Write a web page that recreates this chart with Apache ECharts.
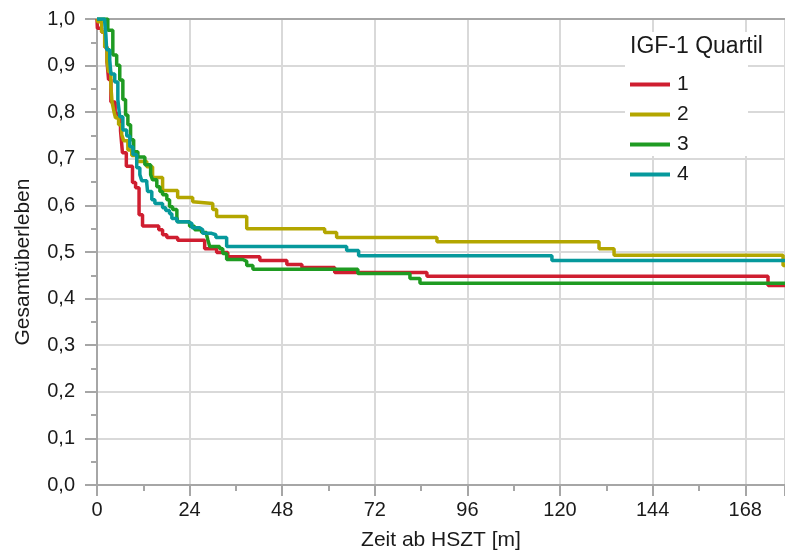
<!DOCTYPE html>
<html>
<head>
<meta charset="utf-8">
<script src="https://cdn.jsdelivr.net/npm/echarts@6/dist/echarts.min.js"></script>
<style>
html,body{margin:0;padding:0;background:#fff;}
#chart{width:785px;height:556px;}
</style>
</head>
<body>
<div id="chart"></div>
<script>
// ---- data (months, survival) ----
const seriesNames = ['1', '2', '3', '4'];
const legendTitle = 'IGF-1 Quartil';
const xAxisTitle = 'Zeit ab HSZT [m]';
const yAxisTitle = 'Gesamtüberleben';
const xTickLabels = ['0', '24', '48', '72', '96', '120', '144', '168'];
const yTickLabels = ['0,0', '0,1', '0,2', '0,3', '0,4', '0,5', '0,6', '0,7', '0,8', '0,9', '1,0'];

const q1Times = [0, 0.1, 1.2, 2.0, 2.6, 3.0, 3.6, 4.7, 5.5, 6.1, 6.6, 7.6, 9.2, 10.0, 10.9, 11.8, 16.0, 17.0, 18.1, 20.9, 27.9, 31.0, 33.9, 42.2, 49.2, 53.1, 61.6, 85.5, 173.9, 178.3];
const q1Surv  = [1.0, 0.980, 0.972, 0.940, 0.908, 0.870, 0.822, 0.797, 0.785, 0.760, 0.713, 0.684, 0.649, 0.638, 0.580, 0.556, 0.548, 0.537, 0.531, 0.525, 0.507, 0.499, 0.490, 0.482, 0.473, 0.467, 0.456, 0.448, 0.428, 0.428];

const q2Times = [0, 0.2, 1.2, 2.0, 2.6, 3.0, 3.6, 3.9, 4.4, 4.8, 5.6, 6.4, 6.9, 8.0, 9.0, 10.3, 12.9, 14.4, 17.0, 20.9, 24.8, 25.3, 30.0, 31.0, 38.8, 59.0, 62.1, 88.1, 130.1, 134.0, 177.8, 178.3];
const q2Surv  = [1.0, 0.994, 0.972, 0.940, 0.908, 0.887, 0.855, 0.822, 0.801, 0.788, 0.773, 0.752, 0.739, 0.719, 0.707, 0.694, 0.683, 0.660, 0.632, 0.617, 0.608, 0.604, 0.591, 0.576, 0.550, 0.542, 0.531, 0.522, 0.507, 0.493, 0.471, 0.471];

const q3Times = [0, 2.8, 4.1, 5.1, 5.9, 6.7, 7.4, 8.0, 8.7, 9.5, 10.6, 12.4, 13.9, 14.4, 15.5, 16.3, 17.0, 18.1, 18.8, 19.6, 20.7, 20.9, 24.0, 25.3, 27.1, 28.4, 28.7, 29.2, 31.8, 32.6, 33.6, 37.8, 38.8, 40.4, 67.6, 81.1, 83.7, 178.3];
const q3Surv  = [1.0, 0.976, 0.923, 0.901, 0.869, 0.827, 0.794, 0.773, 0.741, 0.715, 0.704, 0.687, 0.666, 0.655, 0.640, 0.630, 0.623, 0.612, 0.597, 0.591, 0.576, 0.565, 0.555, 0.548, 0.542, 0.537, 0.527, 0.512, 0.507, 0.497, 0.484, 0.480, 0.471, 0.463, 0.454, 0.443, 0.433, 0.433];

const q4Times = [0, 2.0, 2.3, 2.5, 3.3, 3.6, 4.6, 5.4, 5.9, 6.7, 7.7, 8.5, 9.3, 10.3, 11.1, 11.6, 12.9, 13.1, 14.2, 15.0, 17.0, 17.8, 18.8, 19.4, 20.7, 23.5, 24.6, 26.6, 27.4, 29.7, 30.8, 33.6, 64.7, 67.8, 117.9, 178.3];
const q4Surv  = [1.0, 0.994, 0.966, 0.934, 0.912, 0.882, 0.865, 0.827, 0.790, 0.762, 0.749, 0.726, 0.709, 0.681, 0.666, 0.653, 0.647, 0.630, 0.612, 0.604, 0.595, 0.589, 0.582, 0.572, 0.565, 0.561, 0.552, 0.548, 0.540, 0.537, 0.531, 0.512, 0.503, 0.492, 0.482, 0.482];

const colors = ['#cf1e30', '#b3a600', '#1f9b22', '#06999c'];
const xMax = 178.3;

function pairs(t, s) { return t.map((v, i) => [v, s[i]]); }
const allTimes = [q1Times, q2Times, q3Times, q4Times];
const allSurv = [q1Surv, q2Surv, q3Surv, q4Surv];

const FONT = "'Liberation Sans', Arial, sans-serif";
const chart = echarts.init(document.getElementById('chart'), null, {renderer: 'canvas'});
const axisGray = '#a6a6a6';
const gridGray = '#d9d9d9';

const option = {
  animation: false,
  backgroundColor: '#ffffff',
  color: colors,
  title: {
    text: legendTitle,
    left: 630, top: 35,
    textStyle: {fontFamily: FONT, fontSize: 23, fontWeight: 'normal', color: '#1a1a1a'},
    padding: 0
  },
  legend: {
    orient: 'vertical',
    left: 630, top: 74,
    itemWidth: 40, itemHeight: 4,
    itemGap: 9,
    icon: 'rect',
    padding: 0,
    data: seriesNames,
    textStyle: {fontFamily: FONT, fontSize: 21, color: '#1a1a1a', lineHeight: 21, padding: [0, 0, 0, 2]}
  },
  graphic: [{
    type: 'rect', z: 1,
    shape: {x: 625, y: 32, width: 123, height: 124},
    style: {fill: '#ffffff'}
  }],
  grid: {left: 97, top: 19, right: 0, bottom: 70, containLabel: false},
  xAxis: [{
    type: 'value', min: 0, max: xMax, interval: 24,
    name: xAxisTitle, nameLocation: 'middle', nameGap: 45,
    nameTextStyle: {fontFamily: FONT, fontSize: 21, color: '#1a1a1a'},
    axisLine: {show: true, onZero: false, lineStyle: {color: axisGray, width: 2}},
    axisTick: {show: true, length: 11, lineStyle: {color: axisGray, width: 2}},
    minorTick: {show: true, splitNumber: 2, length: 6, lineStyle: {color: axisGray, width: 2}},
    splitLine: {show: true, lineStyle: {color: gridGray, width: 2}},
    axisLabel: {
      showMaxLabel: false, margin: 15,
      fontFamily: FONT, fontSize: 20, color: '#1a1a1a',
      formatter: v => { const i = Math.round(v / 24); return (Math.abs(v - i * 24) < 1e-6 && xTickLabels[i] !== undefined) ? xTickLabels[i] : ''; }
    }
  }, {
    type: 'value', min: 0, max: xMax, position: 'top',
    axisLine: {show: true, onZero: false, lineStyle: {color: axisGray, width: 2}},
    axisTick: {show: false}, axisLabel: {show: false}, splitLine: {show: false}
  }],
  yAxis: {
    type: 'value', min: 0, max: 1, interval: 0.1,
    name: yAxisTitle, nameLocation: 'middle', nameGap: 63, nameRotate: 90,
    nameTextStyle: {fontFamily: FONT, fontSize: 21, color: '#1a1a1a', padding: [0, 20, 0, 0]},
    axisLine: {show: true, onZero: false, lineStyle: {color: axisGray, width: 2}},
    axisTick: {show: true, length: 12, lineStyle: {color: axisGray, width: 2}},
    minorTick: {show: true, splitNumber: 2, length: 6, lineStyle: {color: axisGray, width: 2}},
    splitLine: {show: true, lineStyle: {color: gridGray, width: 2}},
    axisLabel: {
      margin: 22, fontFamily: FONT, fontSize: 20, color: '#1a1a1a',
      formatter: v => yTickLabels[Math.round(v * 10)]
    }
  },
  series: seriesNames.map((n, k) => ({
    name: n,
    type: 'line',
    step: 'end',
    xAxisIndex: 0,
    showSymbol: false,
    symbol: 'none',
    z: 3 + k,
    lineStyle: {width: 3.5, color: colors[k]},
    data: pairs(allTimes[k], allSurv[k])
  }))
};
chart.setOption(option);
</script>
</body>
</html>
